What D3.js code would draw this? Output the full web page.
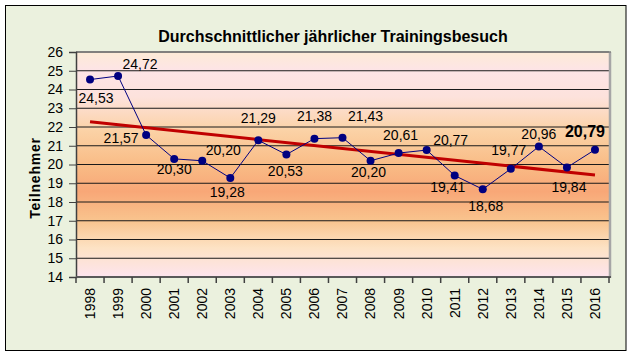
<!DOCTYPE html>
<html>
<head>
<meta charset="utf-8">
<script src="https://cdn.jsdelivr.net/npm/d3@7"></script>
<style>
  html, body { margin: 0; padding: 0; background: #ffffff; }
  svg { display: block; font-family: "Liberation Sans", Arial, sans-serif; }
</style>
</head>
<body>
<svg id="chart" width="633" height="356"></svg>
<script>
// ---- data ----
const years = ["1998","1999","2000","2001","2002","2003","2004","2005","2006","2007","2008","2009","2010","2011","2012","2013","2014","2015","2016"];
const values = [24.53, 24.72, 21.57, 20.30, 20.20, 19.28, 21.29, 20.53, 21.38, 21.43, 20.20, 20.61, 20.77, 19.41, 18.68, 19.77, 20.96, 19.84, 20.79];
const yTicks = [14, 15, 16, 17, 18, 19, 20, 21, 22, 23, 24, 25, 26];
const title = "Durchschnittlicher jährlicher Trainingsbesuch";
const yTitle = "Teilnehmer";

// label placement offsets (dx, dy relative to point) — styling only
const labelOffsets = [[6,23],[22,-7],[-25,8],[0,15],[21,-6],[-3,19],[0,-17],[-1,21],[0,-18],[23,-17],[-2,16],[2,-13],[24,-5],[-7,16],[3,22],[-2,-14],[0,-8],[2,24],[-10,-13]];

const svg = d3.select("#chart");
const L = 76, R = 609, T = 52, B = 277;

// outer background & frame
svg.append("rect").attr("x", 5.5).attr("y", 5.5).attr("width", 620.5).attr("height", 345)
  .attr("fill", "#ebf1de").attr("stroke", "#000").attr("stroke-width", 1);

// gradient
const defs = svg.append("defs");
const grad = defs.append("linearGradient").attr("id", "bg").attr("x1", 0).attr("y1", 0).attr("x2", 0).attr("y2", 1);
[[0,"#fdebd6"],[0.08,"#fde4e6"],[0.2,"#fde2dc"],[0.35,"#fbd2a6"],[0.5,"#f9bc86"],[0.62,"#f8a777"],[0.75,"#f9c48e"],[0.87,"#fde2c4"],[1,"#fde4ee"]]
  .forEach(s => grad.append("stop").attr("offset", s[0]).attr("stop-color", s[1]));

const x = d3.scaleBand().domain(years).range([L, R]).paddingInner(0).paddingOuter(0);
const y = d3.scaleLinear().domain([14, 26]).range([B, T]);

svg.append("rect").attr("x", L).attr("y", T).attr("width", R - L).attr("height", B - T).attr("fill", "url(#bg)");

// gridlines
svg.append("g").selectAll("line").data(yTicks).join("line")
  .attr("x1", L).attr("x2", R).attr("y1", d => y(d)).attr("y2", d => y(d))
  .attr("stroke", "#1a1a1a").attr("stroke-width", 1);

// plot border right/top
svg.append("line").attr("x1", R + 1).attr("x2", R + 1).attr("y1", T).attr("y2", B + 1)
  .attr("stroke", "#a6a6a6").attr("stroke-width", 2.5);
svg.append("line").attr("x1", L).attr("x2", R + 2).attr("y1", T).attr("y2", T)
  .attr("stroke", "#7f7f7f").attr("stroke-width", 1.5);

// y axis
const yAxis = d3.axisLeft(y).tickValues(yTicks).tickSize(7).tickPadding(6).tickFormat(d3.format("d"));
const gy = svg.append("g").attr("transform", `translate(${L},0)`).call(yAxis);
gy.select(".domain").attr("stroke", "#404040").attr("stroke-width", 1.5);
gy.selectAll(".tick line").attr("stroke", "#404040");
gy.selectAll("text").attr("font-size", "14px").attr("fill", "#000").attr("font-family", "'Liberation Sans', Arial, sans-serif");

// x axis (ticks at category boundaries)
const gx = svg.append("g").attr("transform", `translate(0,${B})`);
gx.append("line").attr("x1", L).attr("x2", R + 2).attr("y1", 0).attr("y2", 0).attr("stroke", "#595959").attr("stroke-width", 2);
const bounds = years.map(d => x(d)).concat([x(years[years.length - 1]) + x.bandwidth()]);
gx.selectAll("line.tk").data(bounds).join("line").attr("class", "tk")
  .attr("x1", d => d).attr("x2", d => d).attr("y1", 0).attr("y2", 6).attr("stroke", "#404040").attr("stroke-width", 1.5);
gx.selectAll("text").data(years).join("text")
  .attr("transform", d => `translate(${x(d) + x.bandwidth() / 2},11) rotate(-90)`)
  .attr("text-anchor", "end").attr("dy", "0.35em").attr("font-size", "14px").attr("fill", "#000")
  .text(d => d);

// titles
svg.append("text").attr("x", 333).attr("y", 42).attr("text-anchor", "middle")
  .attr("font-size", "16px").attr("font-weight", "bold").attr("fill", "#000").text(title);
svg.append("text").attr("transform", "translate(40,178) rotate(-90)").attr("text-anchor", "middle")
  .attr("font-size", "14px").attr("font-weight", "bold").attr("letter-spacing", "0.8px").attr("fill", "#000").text(yTitle);

// trendline (least squares from data)
const n = values.length;
const xm = d3.mean(d3.range(n)), ym = d3.mean(values);
const slope = d3.sum(d3.range(n), i => (i - xm) * (values[i] - ym)) / d3.sum(d3.range(n), i => (i - xm) ** 2);
const icpt = ym - slope * xm;
const cx = i => x(years[i]) + x.bandwidth() / 2;
svg.append("line").attr("x1", cx(0)).attr("x2", cx(n - 1))
  .attr("y1", y(icpt)).attr("y2", y(icpt + slope * (n - 1)))
  .attr("stroke", "#c00000").attr("stroke-width", 3);

// series line
const line = d3.line().x((d, i) => cx(i)).y(d => y(d));
svg.append("path").datum(values).attr("d", line).attr("fill", "none").attr("stroke", "#000080").attr("stroke-width", 1);
svg.append("g").selectAll("circle").data(values).join("circle")
  .attr("cx", (d, i) => cx(i)).attr("cy", d => y(d)).attr("r", 4).attr("fill", "#000080");

// labels
const fmt = v => d3.format(".2f")(v).replace(".", ",");
svg.append("g").selectAll("text").data(values).join("text")
  .attr("x", (d, i) => cx(i) + labelOffsets[i][0])
  .attr("y", (d, i) => y(d) + labelOffsets[i][1])
  .attr("text-anchor", "middle")
  .attr("font-size", (d, i) => i === n - 1 ? "16px" : "14px")
  .attr("font-weight", (d, i) => i === n - 1 ? "bold" : "normal")
  .attr("fill", "#000")
  .text(d => fmt(d));
</script>
</body>
</html>
